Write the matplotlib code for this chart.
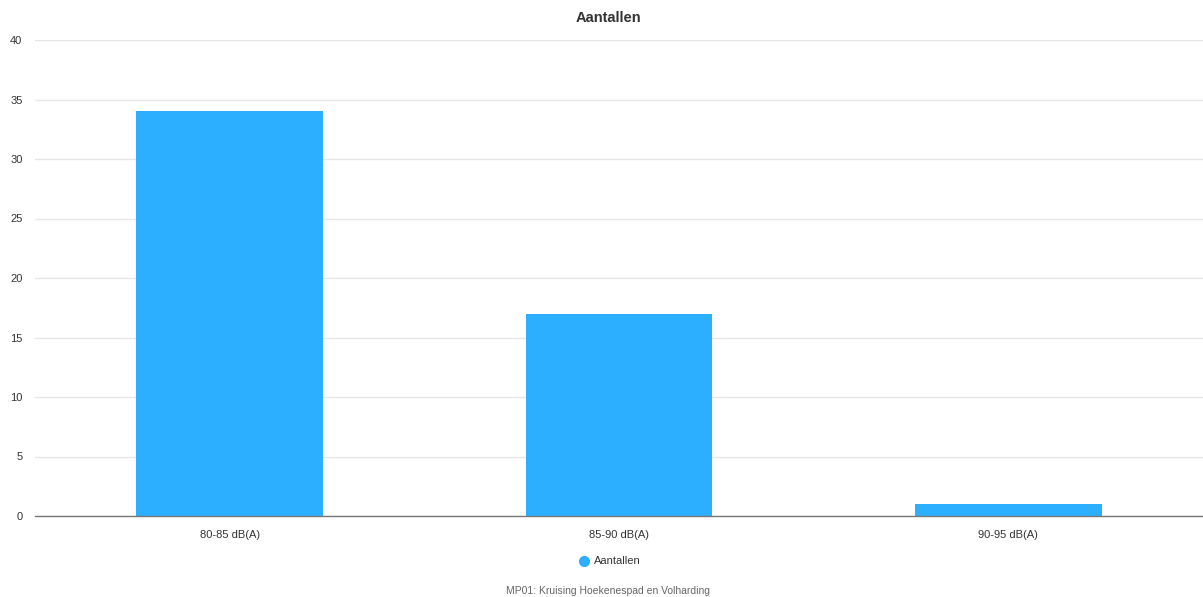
import matplotlib.pyplot as plt
import numpy as np

plt.rcParams['font.family'] = ['Liberation Sans', 'DejaVu Sans']

# Data
categories = ['80-85 dB(A)', '85-90 dB(A)', '90-95 dB(A)']
counts = [34, 17, 1]
series_name = 'Aantallen'
y_ticks = [0, 5, 10, 15, 20, 25, 30, 35, 40]

W, H = 1203, 597
fig = plt.figure(figsize=(W / 100, H / 100), dpi=100)
ax = fig.add_axes([35 / W, (H - 516) / H, (1203 - 35) / W, (516 - 40) / H])

x = np.arange(len(categories))
ax.bar(x, counts, width=0.48, color='#2caffe', label=series_name, zorder=3)

ax.set_xlim(-0.5, len(categories) - 0.5)
ax.set_ylim(0, 40)
ax.set_yticks(y_ticks)
ax.set_xticks(x)
ax.set_xticklabels(categories)

ax.grid(axis='y', color='#e6e6e6', linewidth=1, zorder=0)
for side in ['top', 'right', 'left']:
    ax.spines[side].set_visible(False)
ax.spines['bottom'].set_color('#777777')
ax.spines['bottom'].set_linewidth(1)
ax.spines['bottom'].set_zorder(4)

ax.tick_params(axis='both', length=0, labelsize=8, labelcolor='#333333')
ax.tick_params(axis='y', pad=9)
ax.tick_params(axis='x', pad=10)

fig.text(608 / W, 1 - 18 / H, 'Aantallen', ha='center', va='center',
         fontsize=10.5, fontweight='bold', color='#333333')

# legend
fig.lines.append(plt.Line2D([584 / W], [1 - 561 / H], marker='o', markersize=7,
                            color='#2caffe', transform=fig.transFigure))
fig.text(594 / W, 1 - 561 / H, series_name, ha='left', va='center',
         fontsize=8, color='#333333')

fig.text(608 / W, 1 - 591 / H, 'MP01: Kruising Hoekenespad en Volharding',
         ha='center', va='center', fontsize=7.5, color='#666666')

plt.savefig('out.png', dpi=100)
